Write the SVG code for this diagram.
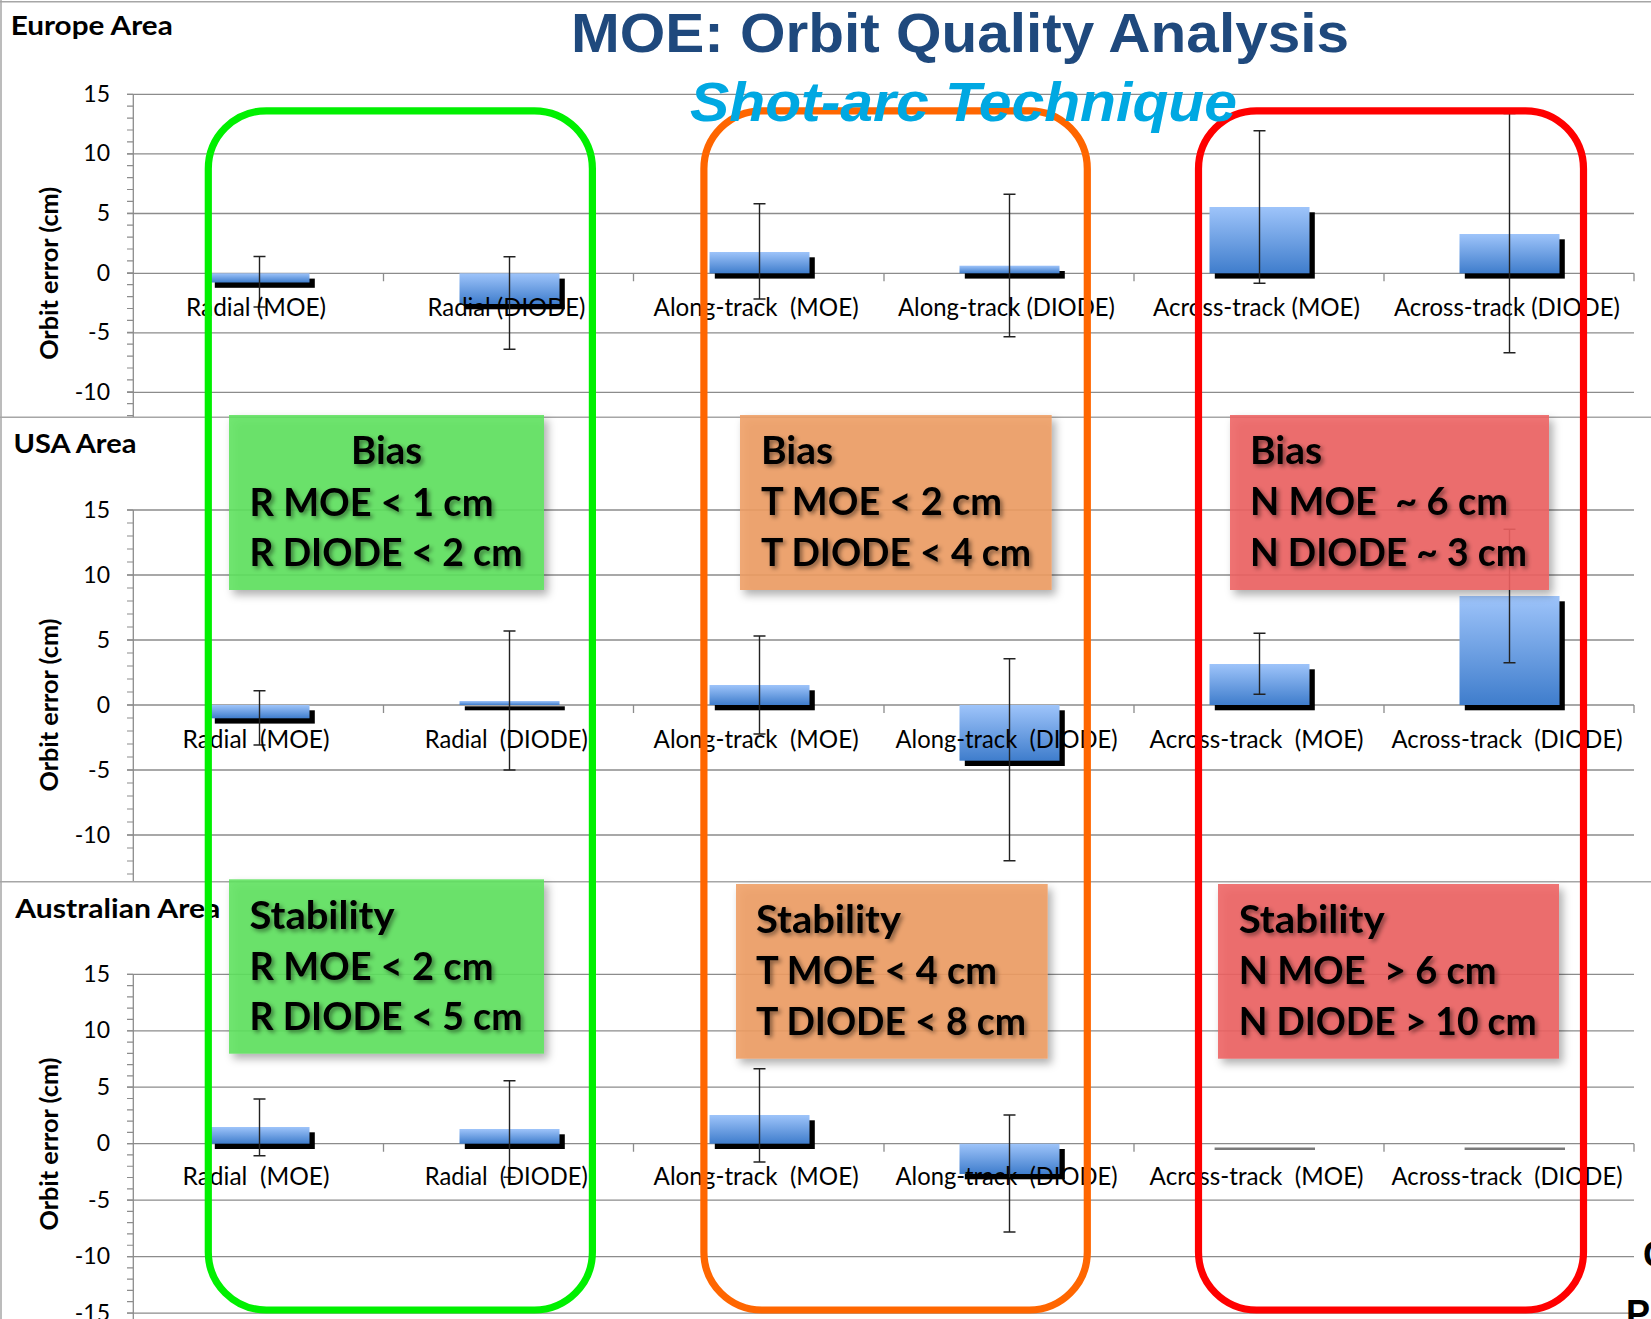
<svg xmlns="http://www.w3.org/2000/svg" width="1651" height="1319" viewBox="0 0 1651 1319">
<style>
.frame{stroke:#a6a6a6;stroke-width:1.5;fill:none}
.grid{stroke:#8c8c8c;stroke-width:1.3;fill:none}
.mtick{stroke:#8c8c8c;stroke-width:6;fill:none}
.ytk{font-family:Lato,"Liberation Sans",sans-serif;font-size:23px;fill:#000;text-anchor:end}
.cat{font-family:Lato,"Liberation Sans",sans-serif;font-size:25px;fill:#000;white-space:pre}
.pt{font-family:Lato,"Liberation Sans",sans-serif;font-weight:bold;font-size:27px;fill:#000}
.yt{font-family:Lato,"Liberation Sans",sans-serif;font-weight:bold;font-size:24px;fill:#000;text-anchor:middle}
.bar{fill:url(#bg)}
.sh{fill:#000}
.zero{stroke:#7a7a7a;stroke-width:2.5}
.err{stroke:#222;stroke-width:1.4;fill:none}
.box{filter:url(#bs)}
.bt{font-family:Lato,"Liberation Sans",sans-serif;font-weight:bold;font-size:39px;fill:#000;filter:url(#ts);white-space:pre}
.rr{fill:none;stroke-width:7.2}
</style>
<defs>
<linearGradient id="bg" x1="0" y1="0" x2="0" y2="1">
<stop offset="0" stop-color="#9ec4fa"/>
<stop offset="1" stop-color="#3f7dcc"/>
</linearGradient>
<filter id="bs" x="-10%" y="-10%" width="125%" height="130%">
<feDropShadow dx="4" dy="5" stdDeviation="4" flood-color="#000" flood-opacity="0.35"/>
</filter>
<filter id="ts" x="-10%" y="-30%" width="125%" height="170%">
<feDropShadow dx="2.5" dy="2.5" stdDeviation="2" flood-color="#000" flood-opacity="0.45"/>
</filter>
</defs>
<rect width="1651" height="1319" fill="#fff"/>

<g id="frames">
<line class="frame" x1="0" y1="1.7" x2="1651" y2="1.7"/>
<line class="frame" x1="0" y1="417.3" x2="1651" y2="417.3"/>
<line class="frame" x1="0" y1="881.7" x2="1651" y2="881.7"/>
<line class="frame" x1="1" y1="0" x2="1" y2="1319"/>
</g>

<g id="europe-axes">
<path class="grid" d="M127 94.3H1634M127 153.9H1634M127 213.5H1634M127 273.3H1634M127 332.8H1634M127 392.3H1634"/>
<line class="grid" x1="133.3" y1="94.3" x2="133.3" y2="417"/>
<line class="mtick" x1="130" y1="93.7" x2="130" y2="417" stroke-dasharray="1.2 10.7"/>
<path class="grid" d="M383.5 273.3v8M633.5 273.3v8M884 273.3v8M1134 273.3v8M1384 273.3v8M1634 273.3v8"/>
<text class="ytk" x="110" y="101.8">15</text>
<text class="ytk" x="110" y="161.4">10</text>
<text class="ytk" x="110" y="221">5</text>
<text class="ytk" x="110" y="280.8">0</text>
<text class="ytk" x="110" y="340.3">-5</text>
<text class="ytk" x="110" y="399.8">-10</text>
<text class="yt" transform="translate(58,273.3) rotate(-90)" textLength="173" lengthAdjust="spacingAndGlyphs">Orbit error (cm)</text>
<text class="pt" x="10.7" y="35" textLength="162" lengthAdjust="spacingAndGlyphs">Europe Area</text>
</g>

<g id="usa-axes">
<path class="grid" d="M127 510H1634M127 575H1634M127 640H1634M127 705H1634M127 770H1634M127 835H1634"/>
<line class="grid" x1="133.3" y1="510" x2="133.3" y2="881"/>
<line class="mtick" x1="130" y1="509.4" x2="130" y2="881" stroke-dasharray="1.2 11.8"/>
<path class="grid" d="M383.5 705v8M633.5 705v8M884 705v8M1134 705v8M1384 705v8M1634 705v8"/>
<text class="ytk" x="110" y="517.5">15</text>
<text class="ytk" x="110" y="582.5">10</text>
<text class="ytk" x="110" y="647.5">5</text>
<text class="ytk" x="110" y="712.5">0</text>
<text class="ytk" x="110" y="777.5">-5</text>
<text class="ytk" x="110" y="842.5">-10</text>
<text class="yt" transform="translate(58,705) rotate(-90)" textLength="173" lengthAdjust="spacingAndGlyphs">Orbit error (cm)</text>
<text class="pt" x="13.4" y="452.7" textLength="123" lengthAdjust="spacingAndGlyphs">USA Area</text>
</g>

<g id="australia-axes">
<path class="grid" d="M127 974.3H1634M127 1030.8H1634M127 1087.2H1634M127 1143.7H1634M127 1200.2H1634M127 1256.6H1634M127 1313.1H1634"/>
<line class="grid" x1="133.3" y1="974.3" x2="133.3" y2="1319"/>
<line class="mtick" x1="130" y1="973.7" x2="130" y2="1319" stroke-dasharray="1.2 10.09"/>
<path class="grid" d="M383.5 1143.7v8M633.5 1143.7v8M884 1143.7v8M1134 1143.7v8M1384 1143.7v8M1634 1143.7v8"/>
<text class="ytk" x="110" y="981.8">15</text>
<text class="ytk" x="110" y="1038.3">10</text>
<text class="ytk" x="110" y="1094.7">5</text>
<text class="ytk" x="110" y="1151.2">0</text>
<text class="ytk" x="110" y="1207.7">-5</text>
<text class="ytk" x="110" y="1264.1">-10</text>
<text class="ytk" x="110" y="1320.6">-15</text>
<text class="yt" transform="translate(58,1144) rotate(-90)" textLength="173" lengthAdjust="spacingAndGlyphs">Orbit error (cm)</text>
<text class="pt" x="15.3" y="918.3" textLength="205" lengthAdjust="spacingAndGlyphs">Australian Area</text>
</g>

<g id="europe-bars">
<rect class="sh" x="214.8" y="278.6" width="100" height="9.2"/>
<rect class="bar" x="209.5" y="273.3" width="100" height="9.2"/>
<rect class="sh" x="464.8" y="278.6" width="100" height="30.7"/>
<rect class="bar" x="459.5" y="273.3" width="100" height="30.7"/>
<rect class="sh" x="714.8" y="257.3" width="100" height="21.3"/>
<rect class="bar" x="709.5" y="252" width="100" height="21.3"/>
<rect class="sh" x="964.8" y="271" width="100" height="7.6"/>
<rect class="bar" x="959.5" y="265.7" width="100" height="7.6"/>
<rect class="sh" x="1214.8" y="212.3" width="100" height="66.3"/>
<rect class="bar" x="1209.5" y="207" width="100" height="66.3"/>
<rect class="sh" x="1464.8" y="239.3" width="100" height="39.3"/>
<rect class="bar" x="1459.5" y="234" width="100" height="39.3"/>
<path class="err" d="M253.5 256.5h12M259.5 256.5V307M253.5 307h12"/>
<path class="err" d="M503.5 256.7h12M509.5 256.7V349.3M503.5 349.3h12"/>
<path class="err" d="M753.5 203.7h12M759.5 203.7V299M753.5 299h12"/>
<path class="err" d="M1003.5 194.3h12M1009.5 194.3V336.7M1003.5 336.7h12"/>
<path class="err" d="M1253.5 130.7h12M1259.5 130.7V283.3M1253.5 283.3h12"/>
<path class="err" d="M1503.5 113.5h12M1509.5 113.5V352.7M1503.5 352.7h12"/>
<text class="cat" x="186" y="315.5" textLength="140" lengthAdjust="spacingAndGlyphs">Radial (MOE)</text>
<text class="cat" x="427.5" y="315.5" textLength="158" lengthAdjust="spacingAndGlyphs">Radial (DIODE)</text>
<text class="cat" x="653.6" y="315.5" textLength="205" lengthAdjust="spacingAndGlyphs">Along-track  (MOE)</text>
<text class="cat" x="898" y="315.5" textLength="217" lengthAdjust="spacingAndGlyphs">Along-track (DIODE)</text>
<text class="cat" x="1153" y="315.5" textLength="207" lengthAdjust="spacingAndGlyphs">Across-track (MOE)</text>
<text class="cat" x="1394" y="315.5" textLength="226" lengthAdjust="spacingAndGlyphs">Across-track (DIODE)</text>
</g>

<g id="usa-bars">
<rect class="sh" x="214.8" y="710.3" width="100" height="13.3"/>
<rect class="bar" x="209.5" y="705" width="100" height="13.3"/>
<rect class="sh" x="464.8" y="706.3" width="100" height="4"/>
<rect class="bar" x="459.5" y="701" width="100" height="4"/>
<rect class="sh" x="714.8" y="690.3" width="100" height="20"/>
<rect class="bar" x="709.5" y="685" width="100" height="20"/>
<rect class="sh" x="964.8" y="710.3" width="100" height="55.7"/>
<rect class="bar" x="959.5" y="705" width="100" height="55.7"/>
<rect class="sh" x="1214.8" y="669.3" width="100" height="41"/>
<rect class="bar" x="1209.5" y="664" width="100" height="41"/>
<rect class="sh" x="1464.8" y="601.3" width="100" height="109"/>
<rect class="bar" x="1459.5" y="596" width="100" height="109"/>
<path class="err" d="M253.5 690.7h12M259.5 690.7V745M253.5 745h12"/>
<path class="err" d="M503.5 631h12M509.5 631V770M503.5 770h12"/>
<path class="err" d="M753.5 636h12M759.5 636V734M753.5 734h12"/>
<path class="err" d="M1003.5 658.7h12M1009.5 658.7V860.7M1003.5 860.7h12"/>
<path class="err" d="M1253.5 633.3h12M1259.5 633.3V694.3M1253.5 694.3h12"/>
<path class="err" d="M1503.5 529.3h12M1509.5 529.3V662.7M1503.5 662.7h12"/>
<text class="cat" x="182.5" y="748" textLength="147" lengthAdjust="spacingAndGlyphs">Radial  (MOE)</text>
<text class="cat" x="424.8" y="748" textLength="163" lengthAdjust="spacingAndGlyphs">Radial  (DIODE)</text>
<text class="cat" x="653.6" y="748" textLength="205" lengthAdjust="spacingAndGlyphs">Along-track  (MOE)</text>
<text class="cat" x="895.6" y="748" textLength="222" lengthAdjust="spacingAndGlyphs">Along-track  (DIODE)</text>
<text class="cat" x="1149.6" y="748" textLength="214" lengthAdjust="spacingAndGlyphs">Across-track  (MOE)</text>
<text class="cat" x="1391.5" y="748" textLength="231" lengthAdjust="spacingAndGlyphs">Across-track  (DIODE)</text>
</g>

<g id="australia-bars">
<rect class="sh" x="214.8" y="1132.3" width="100" height="16.7"/>
<rect class="bar" x="209.5" y="1127" width="100" height="16.7"/>
<rect class="sh" x="464.8" y="1134.3" width="100" height="14.7"/>
<rect class="bar" x="459.5" y="1129" width="100" height="14.7"/>
<rect class="sh" x="714.8" y="1120.3" width="100" height="28.7"/>
<rect class="bar" x="709.5" y="1115" width="100" height="28.7"/>
<rect class="sh" x="964.8" y="1149" width="100" height="30.3"/>
<rect class="bar" x="959.5" y="1143.7" width="100" height="30.3"/>
<line class="zero" x1="1214.6" y1="1148.7" x2="1315" y2="1148.7"/>
<line class="zero" x1="1464.6" y1="1148.7" x2="1565" y2="1148.7"/>
<path class="err" d="M253.5 1099h12M259.5 1099V1155.7M253.5 1155.7h12"/>
<path class="err" d="M503.5 1080.7h12M509.5 1080.7V1177.3M503.5 1177.3h12"/>
<path class="err" d="M753.5 1068.7h12M759.5 1068.7V1162M753.5 1162h12"/>
<path class="err" d="M1003.5 1115h12M1009.5 1115V1232M1003.5 1232h12"/>
<text class="cat" x="182.5" y="1185" textLength="147" lengthAdjust="spacingAndGlyphs">Radial  (MOE)</text>
<text class="cat" x="424.8" y="1185" textLength="163" lengthAdjust="spacingAndGlyphs">Radial  (DIODE)</text>
<text class="cat" x="653.6" y="1185" textLength="205" lengthAdjust="spacingAndGlyphs">Along-track  (MOE)</text>
<text class="cat" x="895.6" y="1185" textLength="222" lengthAdjust="spacingAndGlyphs">Along-track  (DIODE)</text>
<text class="cat" x="1149.6" y="1185" textLength="214" lengthAdjust="spacingAndGlyphs">Across-track  (MOE)</text>
<text class="cat" x="1391.5" y="1185" textLength="231" lengthAdjust="spacingAndGlyphs">Across-track  (DIODE)</text>
</g>

<g id="radial-bias">
<rect class="box" x="229" y="415" width="315" height="175" fill="#5ee25e" fill-opacity="0.88"/>
<text class="bt" x="351" y="464" textLength="71" lengthAdjust="spacingAndGlyphs">Bias</text>
<text class="bt" x="249.5" y="516" textLength="244" lengthAdjust="spacingAndGlyphs">R MOE &lt; 1 cm</text>
<text class="bt" x="249.5" y="566" textLength="273" lengthAdjust="spacingAndGlyphs">R DIODE &lt; 2 cm</text>
</g>
<g id="along-bias">
<rect class="box" x="740" y="415" width="311.7" height="175" fill="#ef9d63" fill-opacity="0.88"/>
<text class="bt" x="761" y="464" textLength="72" lengthAdjust="spacingAndGlyphs">Bias</text>
<text class="bt" x="761" y="515" textLength="241" lengthAdjust="spacingAndGlyphs">T MOE &lt; 2 cm</text>
<text class="bt" x="761" y="566" textLength="270" lengthAdjust="spacingAndGlyphs">T DIODE &lt; 4 cm</text>
</g>
<g id="across-bias">
<rect class="box" x="1230" y="415" width="319" height="175" fill="#ee6262" fill-opacity="0.88"/>
<text class="bt" x="1250" y="464" textLength="72" lengthAdjust="spacingAndGlyphs">Bias</text>
<text class="bt" x="1250" y="515" textLength="258" lengthAdjust="spacingAndGlyphs">N MOE  ~ 6 cm</text>
<text class="bt" x="1250" y="566" textLength="277" lengthAdjust="spacingAndGlyphs">N DIODE ~ 3 cm</text>
</g>
<g id="radial-stability">
<rect class="box" x="229" y="879.3" width="315" height="174.4" fill="#5ee25e" fill-opacity="0.88"/>
<text class="bt" x="249.5" y="929.3" textLength="145" lengthAdjust="spacingAndGlyphs">Stability</text>
<text class="bt" x="249.5" y="980" textLength="244" lengthAdjust="spacingAndGlyphs">R MOE &lt; 2 cm</text>
<text class="bt" x="249.5" y="1030" textLength="273" lengthAdjust="spacingAndGlyphs">R DIODE &lt; 5 cm</text>
</g>
<g id="along-stability">
<rect class="box" x="736" y="884" width="311.7" height="174.7" fill="#ef9d63" fill-opacity="0.88"/>
<text class="bt" x="756" y="933.3" textLength="145" lengthAdjust="spacingAndGlyphs">Stability</text>
<text class="bt" x="756" y="984.3" textLength="241" lengthAdjust="spacingAndGlyphs">T MOE &lt; 4 cm</text>
<text class="bt" x="756" y="1035" textLength="270" lengthAdjust="spacingAndGlyphs">T DIODE &lt; 8 cm</text>
</g>
<g id="across-stability">
<rect class="box" x="1218" y="884" width="341" height="174.7" fill="#ee6262" fill-opacity="0.88"/>
<text class="bt" x="1238.7" y="933.3" textLength="146" lengthAdjust="spacingAndGlyphs">Stability</text>
<text class="bt" x="1238.7" y="984.3" textLength="258" lengthAdjust="spacingAndGlyphs">N MOE  &gt; 6 cm</text>
<text class="bt" x="1238.7" y="1035" textLength="298" lengthAdjust="spacingAndGlyphs">N DIODE &gt; 10 cm</text>
</g>

<g id="groups">
<rect id="radial-group" class="rr" x="208.3" y="110.8" width="384.1" height="1199.2" rx="58" stroke="#00f000"/>
<rect id="along-group" class="rr" x="703.9" y="110.8" width="383.4" height="1199.2" rx="58" stroke="#ff6600"/>
<rect id="across-group" class="rr" x="1198.5" y="110.8" width="385" height="1199.2" rx="58" stroke="#ff0000"/>
</g>

<g id="title">
<text x="571" y="51.7" font-family="'Liberation Sans',Arial,sans-serif" font-weight="bold" font-size="56" fill="#1f497d" textLength="778" lengthAdjust="spacingAndGlyphs">MOE: Orbit Quality Analysis</text>
<text x="690" y="121" font-family="'Liberation Sans',Arial,sans-serif" font-weight="bold" font-style="italic" font-size="55" fill="#00a8e2" textLength="547" lengthAdjust="spacingAndGlyphs">Shot-arc Technique</text>
</g>

<g id="cut-text">
<text x="1643" y="1267" font-family="'Liberation Sans',Arial,sans-serif" font-weight="bold" font-size="36" fill="#000">C</text>
<text x="1626" y="1326" font-family="'Liberation Sans',Arial,sans-serif" font-weight="bold" font-size="36" fill="#000">P</text>
</g>
</svg>
